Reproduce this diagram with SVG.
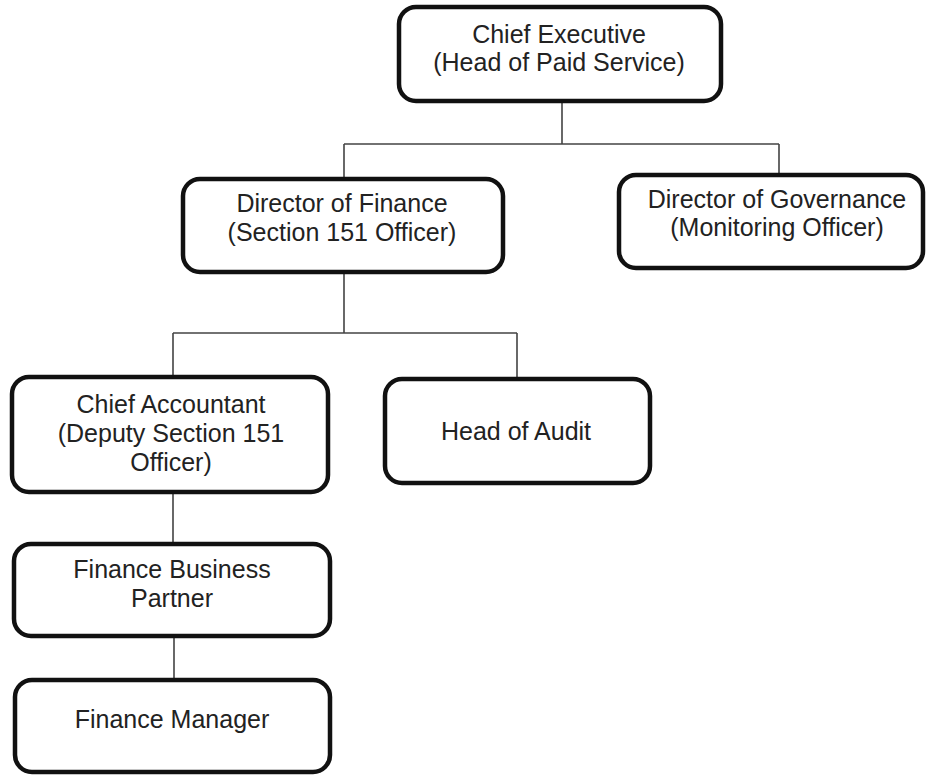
<svg xmlns="http://www.w3.org/2000/svg" width="926" height="776" viewBox="0 0 926 776">
<style>
.box{fill:#fff;stroke:#111;stroke-width:4.5}
.lbl{font-family:"Liberation Sans",Arial,sans-serif;font-size:25px;fill:#222;text-anchor:middle}
.conn{fill:none;stroke:#444;stroke-width:1.6}
</style>
<rect width="926" height="776" fill="#fff"/>
<g id="connectors">
<path class="conn" d="M562 103V144M344 144H779M344 144V177M779 144V173"/>
<path class="conn" d="M344 274V333M173 333H517M173 333V375M517 333V377"/>
<path class="conn" d="M173 494V542M174 638V678"/>
</g>
<g id="chief-executive">
<rect class="box" x="399" y="7" width="322" height="94" rx="17"/>
<text class="lbl" x="559" y="43">Chief Executive</text>
<text class="lbl" x="559" y="71">(Head of Paid Service)</text>
</g>
<g id="director-finance">
<rect class="box" x="183" y="179" width="320" height="93" rx="17"/>
<text class="lbl" x="342" y="212">Director of Finance</text>
<text class="lbl" x="342" y="241">(Section 151 Officer)</text>
</g>
<g id="director-governance">
<rect class="box" x="619" y="175" width="304" height="93" rx="17"/>
<text class="lbl" x="777" y="208">Director of Governance</text>
<text class="lbl" x="777" y="236">(Monitoring Officer)</text>
</g>
<g id="chief-accountant">
<rect class="box" x="12" y="377" width="316" height="115" rx="17"/>
<text class="lbl" x="171" y="413">Chief Accountant</text>
<text class="lbl" x="171" y="442">(Deputy Section 151</text>
<text class="lbl" x="171" y="471">Officer)</text>
</g>
<g id="head-audit">
<rect class="box" x="385" y="379" width="265" height="104" rx="17"/>
<text class="lbl" x="516" y="440">Head of Audit</text>
</g>
<g id="finance-business-partner">
<rect class="box" x="14" y="544" width="316" height="92" rx="17"/>
<text class="lbl" x="172" y="578">Finance Business</text>
<text class="lbl" x="172" y="607">Partner</text>
</g>
<g id="finance-manager">
<rect class="box" x="15" y="680" width="315" height="92" rx="17"/>
<text class="lbl" x="172" y="728">Finance Manager</text>
</g>
</svg>
